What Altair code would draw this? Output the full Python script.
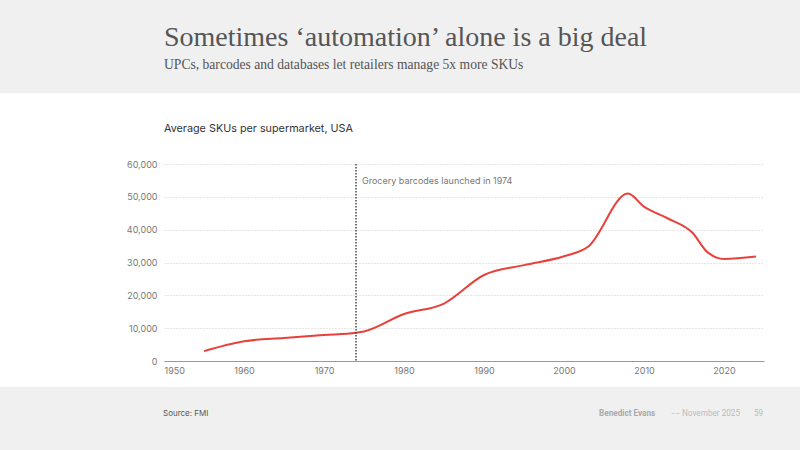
import altair as alt
import pandas as pd

years = [1955, 1960, 1965, 1970, 1974, 1975, 1980, 1985, 1990, 1995, 2000, 2003, 2008, 2010, 2013, 2016, 2018, 2020, 2024]
skus = [3000, 6000, 7000, 7900, 8600, 9000, 14300, 17500, 26200, 29200, 31900, 34800, 51000, 47000, 43400, 39200, 33000, 31100, 31800]

event_year = [1974]
event_label = ["Grocery barcodes launched in 1974"]

title = "Sometimes \u2018automation\u2019 alone is a big deal"
subtitle = "UPCs, barcodes and databases let retailers manage 5x more SKUs"
chart_label = "Average SKUs per supermarket, USA"
source = "Source: FMI"
author = "Benedict Evans"
date = "November 2025"
page = "59"

df = pd.DataFrame({"year": years, "skus": skus})
ev = pd.DataFrame({"year": event_year, "label": event_label})

W, H = 600, 197
L, T = 164, 164
GRAY = "#f0f0f0"

xs = alt.Scale(domain=[1950, 2025], nice=False)
ys = alt.Scale(domain=[0, 60000], nice=False)

one = pd.DataFrame({"a": [0]})
base = alt.Chart(one)

top_band = base.mark_rect(color=GRAY).encode(
    x=alt.value(-L), x2=alt.value(800 - L), y=alt.value(-T), y2=alt.value(93 - T))
bot_band = base.mark_rect(color=GRAY).encode(
    x=alt.value(-L), x2=alt.value(800 - L), y=alt.value(387 - T), y2=alt.value(450 - T))

def txt(s, x, y, size, color, font, weight="normal", align="left"):
    return alt.Chart(pd.DataFrame({"t": [s]})).mark_text(
        align=align, baseline="alphabetic", fontSize=size, color=color, font=font,
        fontWeight=weight).encode(x=alt.value(x - L), y=alt.value(y - T), text="t:N")

t1 = txt(title, 164, 45.5, 28, "#555555", "Liberation Serif")
t2 = txt(subtitle, 164, 68.5, 13.6, "#555555", "Liberation Serif")
t3 = txt(chart_label, 164, 132, 10.8, "#333333", "Inter")
t4 = txt(source, 163, 416, 8, "#555555", "Inter")
t5 = txt(author, 599, 416, 8.2, "#aaaaaa", "Roboto", weight="bold")
t6 = txt("\u2013\u2013", 671, 416, 7, "#bbbbbb", "Roboto")
t7 = txt(date, 682, 416, 8.2, "#bbbbbb", "Roboto")
t8 = txt(page, 754, 416, 8.2, "#bbbbbb", "Roboto")

line = alt.Chart(df).mark_line(color="#e8403a", strokeWidth=2, interpolate="monotone").encode(
    x=alt.X("year:Q", scale=xs, axis=alt.Axis(
        title=None, values=list(range(1950, 2030, 10)), format="d", labelFontSize=9,
        labelColor="#777777", labelFont="Inter", domainColor="#999999", ticks=False,
        grid=False, labelPadding=5)),
    y=alt.Y("skus:Q", scale=ys, axis=alt.Axis(
        title=None, values=list(range(0, 70000, 10000)), format=",d", labelFontSize=9,
        labelColor="#777777", labelFont="Inter", domain=False, ticks=False,
        gridColor="#cccccc", gridDash=[1, 2], gridWidth=1, labelPadding=7)),
)

rule = alt.Chart(ev).mark_rule(color="#444444", strokeDash=[1.5, 1.5], strokeWidth=1.5).encode(
    x=alt.X("year:Q", scale=xs), y=alt.value(0), y2=alt.value(H))
ann = alt.Chart(ev).mark_text(align="left", baseline="middle", dx=6, fontSize=9,
                              color="#777777", font="Inter").encode(
    x=alt.X("year:Q", scale=xs), y=alt.value(181 - T), text="label:N")

chart = alt.layer(top_band, bot_band, t1, t2, t3, t4, t5, t6, t7, t8, line, rule, ann).properties(
    width=W, height=H,
    autosize=alt.AutoSizeParams(type="none"),
    padding={"left": L, "top": T, "right": 800 - L - W, "bottom": 450 - T - H},
    background="white",
).configure_view(stroke=None)

chart.save("out.html", embed_options={"renderer": "svg", "actions": False})
